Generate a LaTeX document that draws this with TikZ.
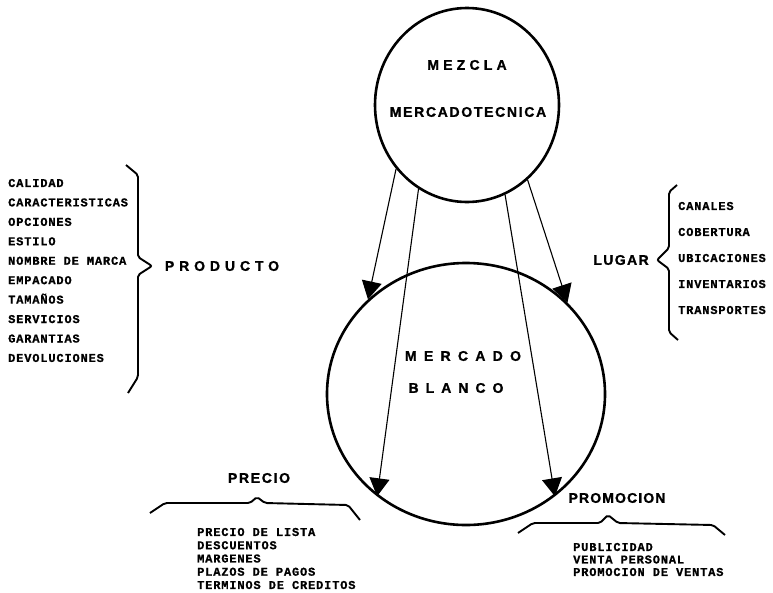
\documentclass[tikz,border=0pt]{standalone}
\usepackage{fontspec}
\usetikzlibrary{arrows.meta,shapes.geometric}
\newfontfamily\headfont{Liberation Sans Bold}[FakeBold=1.2]
\newfontfamily\listfont{Liberation Mono Bold}[FakeBold=0.8]
\newcommand{\spaced}[1]{\addfontfeature{LetterSpace=#1}}

\begin{document}
\begin{tikzpicture}[x=1pt,y=-1pt,
    circ/.style={draw,ellipse,line width=2.6pt,inner sep=0pt},
    heading/.style={font=\headfont\fontsize{14}{16}\selectfont,inner sep=0pt},
    items/.style={align=left,anchor=west,inner sep=0pt},
    brace/.style={line width=1.9pt,rounded corners=2pt},
    arrowline/.style={line width=1.1pt,-{Triangle[length=18pt,width=20pt]}}]
  \useasboundingbox (0,0) rectangle (773,592);
  \node[circ,minimum width=184pt,minimum height=194pt] (mezcla) at (467,105) {};
  \node[circ,minimum width=278pt,minimum height=262pt] (mercado) at (466,394) {};
  \node[heading] (mezclatxt) at (467,65) {\spaced{30}MEZCLA};
  \node[heading] (mercadotxt) at (468,112) {\spaced{12}MERCADOTECNICA};
  \node[heading] (blancotxt1) at (463,356) {\spaced{52}MERCADO};
  \node[heading] (blancotxt2) at (456,388) {\spaced{50}BLANCO};

  \draw[arrowline] (mezcla.222.8) -- (mercado.136.5);
  \draw[arrowline] (mezcla.240) -- (mercado.229.6);
  \draw[arrowline] (mezcla.293.4) -- (mercado.-49.3);
  \draw[arrowline] (mezcla.309.3) -- (mercado.42.9);

  % producto
  \node[heading] (producto) at (222,266) {\spaced{35}PRODUCTO};
  \node[items,font=\listfont\fontsize{12}{19.44}\selectfont] (prodlist) at (8,270.5)
    {\spaced{7}CALIDAD\\ \spaced{7}CARACTERISTICAS\\ \spaced{7}OPCIONES\\ \spaced{7}ESTILO\\
     \spaced{7}NOMBRE DE MARCA\\ \spaced{7}EMPACADO\\ \spaced{7}TAMAÑOS\\ \spaced{7}SERVICIOS\\
     \spaced{7}GARANTIAS\\ \spaced{7}DEVOLUCIONES};
  \draw[brace] (126,165) -- (138,175) -- (138,257) -- (152,266) -- (138,275) -- (138,377) -- (128,393);

  % lugar
  \node[heading] (lugar) at (621,260) {\spaced{10}LUGAR};
  \node[items,font=\listfont\fontsize{12}{26}\selectfont] (lugarlist) at (678,258)
    {\spaced{7}CANALES\\ \spaced{7}COBERTURA\\ \spaced{7}UBICACIONES\\ \spaced{7}INVENTARIOS\\
     \spaced{7}TRANSPORTES};
  \draw[brace] (677,185) -- (669,192) -- (669,248) -- (657,260) -- (669,269) -- (669,332) -- (678,340);

  % precio
  \node[heading] (precio) at (259,478) {\spaced{12}PRECIO};
  \node[items,font=\listfont\fontsize{12}{13.25}\selectfont] (preciolist) at (197,558.5)
    {\spaced{7}PRECIO DE LISTA\\ \spaced{7}DESCUENTOS\\ \spaced{7}MARGENES\\
     \spaced{7}PLAZOS DE PAGOS\\ \spaced{7}TERMINOS DE CREDITOS};
  \draw[brace] (150,513) -- (165,503) -- (250,503) -- (257,497) -- (265,503) -- (348,505) -- (360,520);

  % promocion
  \node[heading] (promocion) at (617,498) {\spaced{8}PROMOCION};
  \node[items,font=\listfont\fontsize{12}{12.5}\selectfont] (promolist) at (573,559.5)
    {\spaced{7}PUBLICIDAD\\ \spaced{7}VENTA PERSONAL\\ \spaced{7}PROMOCION DE VENTAS};
  \draw[brace] (518,533) -- (533,523) -- (600,523) -- (608,515) -- (618,523) -- (713,525) -- (725,535);
\end{tikzpicture}
\end{document}
